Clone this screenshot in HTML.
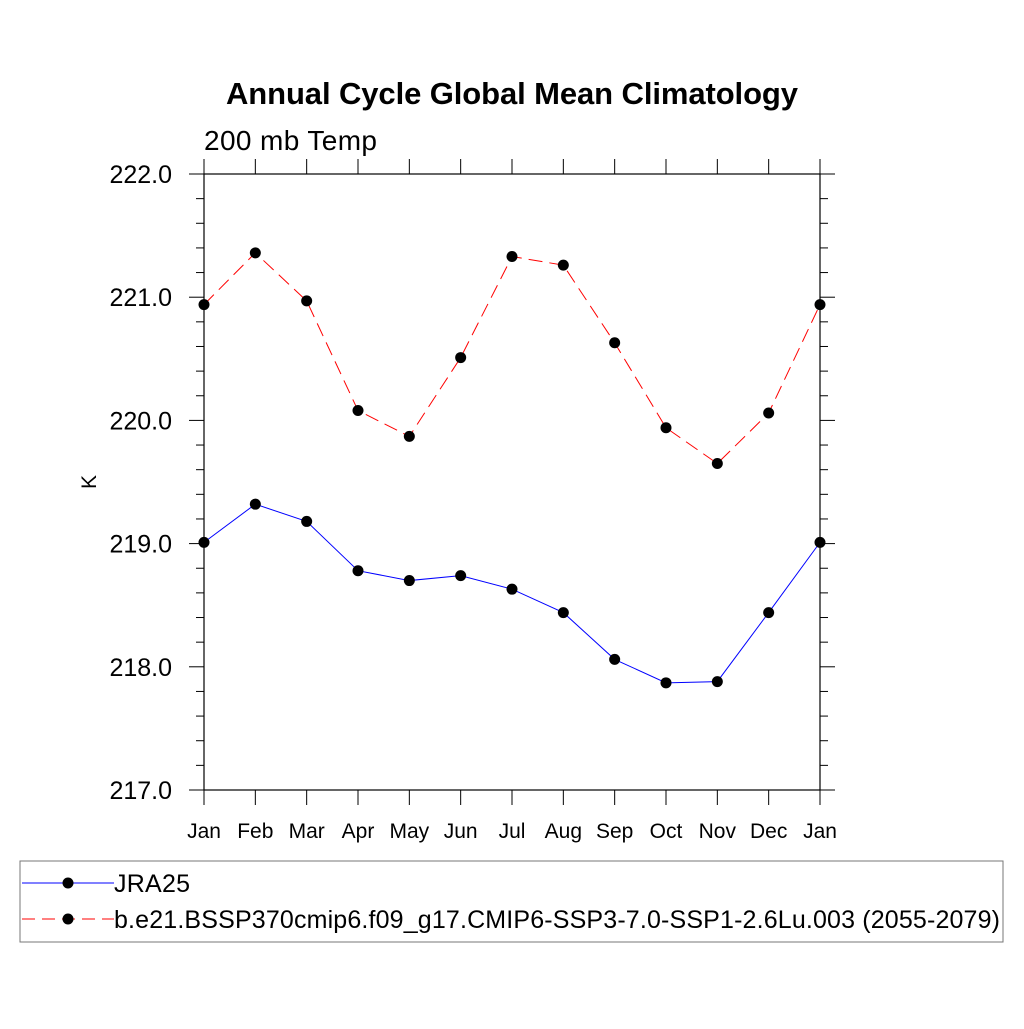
<!DOCTYPE html>
<html><head><meta charset="utf-8"><style>body{margin:0;background:#fff}svg text{font-family:"Liberation Sans",sans-serif}</style></head>
<body>
<svg id="c" width="1024" height="1024" xmlns="http://www.w3.org/2000/svg">
<text x="512" y="104" text-anchor="middle" font-size="31" font-weight="bold" textLength="572">Annual Cycle Global Mean Climatology</text>
<text x="204" y="150" font-size="28" textLength="173">200 mb Temp</text>
<text x="0" y="0" font-size="21" transform="translate(96,482) rotate(-90)" text-anchor="middle">K</text>
<g id="axes"></g>
<g id="series"></g>
<g>
<rect x="20" y="861" width="983" height="81" fill="none" stroke="#777" stroke-width="1"/>
<line x1="22" y1="883" x2="114" y2="883" stroke="#0000ff" stroke-width="1"/>
<circle cx="68" cy="883" r="5.5" fill="#000"/>
<text x="114" y="892" font-size="25" textLength="76">JRA25</text>
<line x1="22" y1="919" x2="114" y2="919" stroke="#ff0000" stroke-width="1" stroke-dasharray="13,7"/>
<circle cx="68" cy="919" r="5.5" fill="#000"/>
<text x="114" y="928" font-size="25" textLength="886">b.e21.BSSP370cmip6.f09_g17.CMIP6-SSP3-7.0-SSP1-2.6Lu.003 (2055-2079)</text>
</g>
</svg>
<script>
const months=["Jan","Feb","Mar","Apr","May","Jun","Jul","Aug","Sep","Oct","Nov","Dec","Jan"];
const jra25=[219.01,219.32,219.18,218.78,218.70,218.74,218.63,218.44,218.06,217.87,217.88,218.44,219.01];
const model=[220.94,221.36,220.97,220.08,219.87,220.51,221.33,221.26,220.63,219.94,219.65,220.06,220.94];
const yTicks=[217.0,218.0,219.0,220.0,221.0,222.0];
const NS="http://www.w3.org/2000/svg";
const X0=204,X1=820,Y0=790,Y1=174,ymin=217,ymax=222;
const xs=i=>X0+(X1-X0)*i/(months.length-1);
const ys=v=>Y0-(v-ymin)/(ymax-ymin)*(Y0-Y1);
function mk(t,a,p){const e=document.createElementNS(NS,t);for(const k in a)e.setAttribute(k,a[k]);p.appendChild(e);return e;}
const ax=document.getElementById('axes');
mk('rect',{x:X0,y:Y1,width:X1-X0,height:Y0-Y1,fill:'none',stroke:'#000','stroke-width':1.2},ax);
months.forEach((m,i)=>{const x=xs(i);
mk('line',{x1:x,y1:Y0,x2:x,y2:Y0+15,stroke:'#000'},ax);
mk('line',{x1:x,y1:Y1,x2:x,y2:Y1-15,stroke:'#000'},ax);
const t=mk('text',{x:x,y:Y0+48,'text-anchor':'middle','font-size':21},ax);t.textContent=m;

});
for(let v=ymin;v<=ymax+1e-6;v+=0.2){const y=ys(v);const maj=Math.abs(v-Math.round(v))<1e-6;const L=maj?15:8;
mk('line',{x1:X0-L,y1:y,x2:X0,y2:y,stroke:'#000'},ax);
mk('line',{x1:X1,y1:y,x2:X1+L,y2:y,stroke:'#000'},ax);}
yTicks.forEach(v=>{const t=mk('text',{x:172,y:ys(v)+9,'text-anchor':'end','font-size':25},ax);t.textContent=v.toFixed(1);

});
const sg=document.getElementById('series');
function draw(vals,col,dash,name){
const pts=vals.map((v,i)=>xs(i)+','+ys(v)).join(' ');
const pl=mk('polyline',{points:pts,fill:'none',stroke:col,'stroke-width':1,'stroke-dasharray':dash},sg);


vals.forEach((v,i)=>{const c=mk('circle',{cx:xs(i),cy:ys(v),r:5.5,fill:'#000'},sg);

});}
draw(model,'#ff0000','14,7','model');
draw(jra25,'#0000ff','none','jra25');
</script>
</body></html>
